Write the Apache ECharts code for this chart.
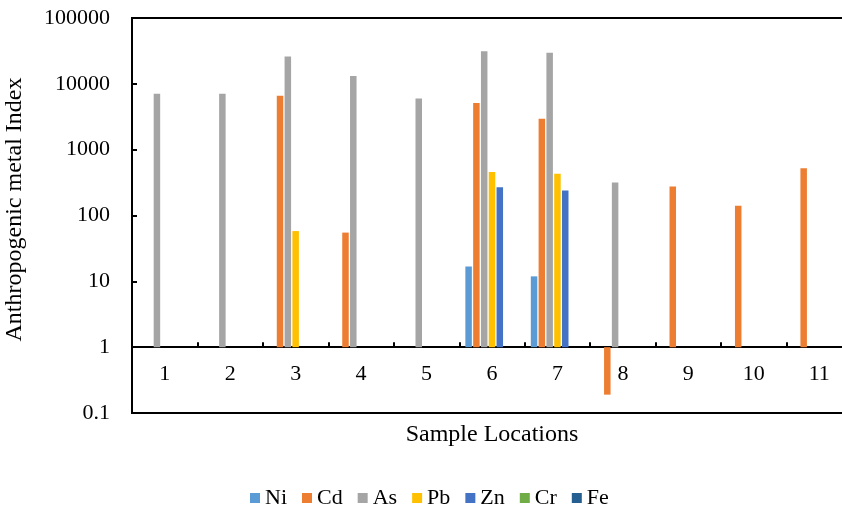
<!DOCTYPE html>
<html>
<head>
<meta charset="utf-8">
<script src="https://cdn.jsdelivr.net/npm/echarts@6/dist/echarts.min.js"></script>
<style>html,body{margin:0;padding:0;background:#fff}#c{width:842px;height:510px}</style>
</head>
<body>
<div id="c"></div>
<script>
var categories = ['1','2','3','4','5','6','7','8','9','10','11'];
var yTickLabels = ['0.1','1','10','100','1000','10000','100000'];
var seriesNames = ['Ni','Cd','As','Pb','Zn','Cr','Fe'];
var colors = ['#5B9BD5','#ED7D31','#A5A5A5','#FFC000','#4472C4','#70AD47','#255E91'];
var Ni = [null,null,null,null,null,16.8,11.9,null,null,null,null];
var Cd = [null,null,6600,55,null,5100,2950,0.19,275,141,520];
var As = [7100,7100,26000,13100,6000,31300,29600,316,null,null,null];
var Pb = [null,null,58,null,null,457,432,null,null,null,null];
var Zn = [null,null,null,null,null,268,239,null,null,null,null];
var Cr = [null,null,null,null,null,null,null,null,null,null,null];
var Fe = [null,null,null,null,null,null,null,null,null,null,null];
var allData = [Ni,Cd,As,Pb,Zn,Cr,Fe];

var font = 'Liberation Serif';
var chart = echarts.init(document.getElementById('c'), null, {renderer:'canvas'});
var series = seriesNames.map(function(n,i){
  return {
    name:n, type:'bar', barWidth:6.5, barGap:'20%',
    itemStyle:{color:colors[i]},
    data: allData[i].map(function(v){ return v==null ? null : Math.log10(v); })
  };
});
chart.setOption({
  animation:false,
  grid:{left:132, right:-10, top:18, bottom:97, show:true, borderColor:'#000', borderWidth:2,
    outerBoundsMode:'none', containLabel:false},
  legend:{left:245, top:482, itemWidth:10, itemHeight:10, itemGap:15,
    icon:'rect',
    textStyle:{fontFamily:font, fontSize:22, color:'#000'},
    data:seriesNames},
  xAxis:{type:'category', data:categories,
    axisLine:{show:true, onZero:true, lineStyle:{color:'#000', width:2}},
    axisTick:{show:true, inside:true, length:5, lineStyle:{color:'#000', width:2}},
    axisLabel:{fontFamily:font, fontSize:22, color:'#000', margin:-50},
    name:'Sample Locations', nameLocation:'middle', nameGap:10, nameMoveOverlap:false,
    nameTextStyle:{fontFamily:font, fontSize:24, color:'#000'}
  },
  yAxis:{type:'value', min:-1, max:5, interval:1,
    axisLine:{show:true, lineStyle:{color:'#000', width:2}},
    axisTick:{show:true, inside:true, length:5, lineStyle:{color:'#000', width:2}},
    splitLine:{show:false},
    axisLabel:{fontFamily:font, fontSize:22, color:'#000', margin:22,
      formatter:function(v){ return yTickLabels[Math.round(v)+1]; }},
    name:'Anthropogenic metal Index', nameLocation:'middle', nameGap:105, nameMoveOverlap:false,
    nameTextStyle:{fontFamily:font, fontSize:24, color:'#000', padding:[0,0,0,12]}
  },
  series:series
});
</script>
</body>
</html>
